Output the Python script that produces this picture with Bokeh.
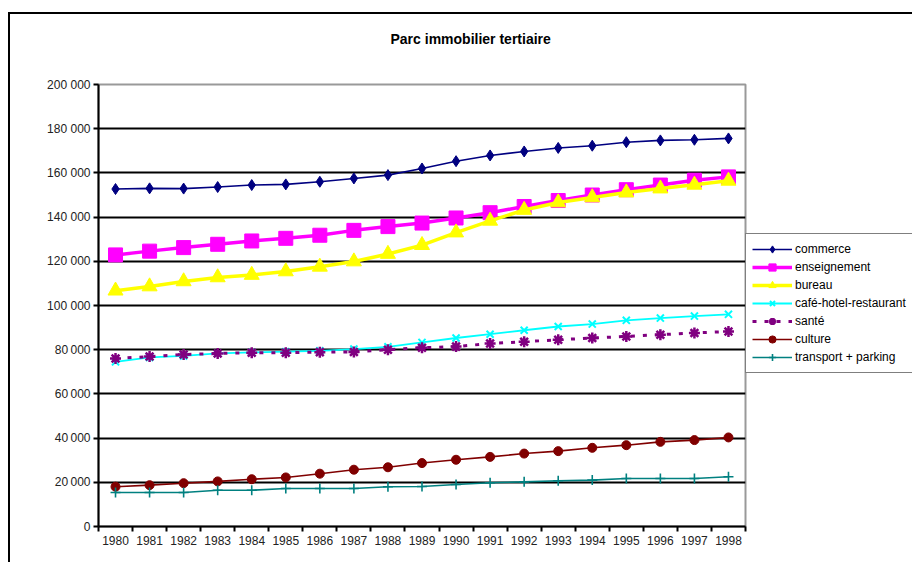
from bokeh.plotting import figure
from bokeh.models import FixedTicker, Legend, LegendItem, Range1d, Title
from bokeh.embed import file_html
from bokeh.resources import INLINE

years = [str(y) for y in range(1980, 1999)]

commerce = [152700, 153000, 152900, 153600, 154500, 154800, 156000, 157500, 159000, 162000,
            165300, 167900, 169700, 171300, 172300, 173900, 174700, 175000, 175600]
enseignement = [122900, 124600, 126200, 127700, 129200, 130400, 131800, 134000, 135700, 137300,
                139600, 142000, 144800, 147500, 150000, 152400, 154500, 156700, 158200]
bureau = [106700, 108600, 110900, 112700, 113800, 115400, 117500, 119900, 123300, 127300,
          133000, 138300, 143200, 146600, 148900, 151100, 152900, 154600, 156400]
cafe = [74500, 76500, 77200, 78300, 78800, 79100, 79500, 80300, 81300, 83300,
        85300, 87000, 88800, 90500, 91600, 93300, 94300, 95200, 96000]
sante = [76000, 76900, 77800, 78300, 78600, 78600, 78900, 79000, 80000, 80900,
         81400, 82800, 83600, 84500, 85300, 86000, 86800, 87600, 88200]
culture = [18000, 18700, 19600, 20400, 21400, 22200, 23900, 25700, 26800, 28700,
           30200, 31500, 33000, 34100, 35600, 36800, 38300, 39100, 40300]
transport = [15400, 15400, 15400, 16400, 16400, 17200, 17200, 17200, 18000, 18100,
             19000, 19800, 20200, 20700, 21000, 21700, 21700, 21700, 22500]

y_ticks = [0, 20000, 40000, 60000, 80000, 100000, 120000, 140000, 160000, 180000, 200000]
y_labels = ["0", "20\u2009000", "40\u2009000", "60\u2009000", "80\u2009000", "100 000",
            "120 000", "140 000", "160 000", "180 000", "200 000"]

series = [
    ("commerce", commerce, "#000080", 1.6, "solid", "diamond", 11, 1),
    ("enseignement", enseignement, "#FF00FF", 3.5, "solid", "square", 14, 1),
    ("bureau", bureau, "#FFFF00", 3.5, "solid", "triangle", 15, 1),
    ("café-hotel-restaurant", cafe, "#00FFFF", 1.8, "solid", "x", 10, 2),
    ("santé", sante, "#800080", 3, "4 8", "asterisk", 11, 2.5),
    ("culture", culture, "#800000", 1.6, "solid", "circle", 9, 1),
    ("transport + parking", transport, "#008080", 1.6, "solid", "cross", 10, 1.6),
]

FONT = "Liberation Sans"
xs = [i + 0.5 for i in range(len(years))]

p = figure(frame_width=647, frame_height=442, output_backend="svg", toolbar_location=None,
           x_range=Range1d(0, 19), y_range=Range1d(0, 200000),
           min_border_left=88, min_border_right=167, min_border_top=70, min_border_bottom=36,
           margin=(12, 0, 0, 8),
           styles={"border-left": "2px solid black", "border-top": "2px solid black"})
p.background_fill_color = "white"
p.border_fill_color = "white"
p.outline_line_color = "#999999"
p.outline_line_width = 2

p.title = Title(text="Parc immobilier tertiaire", align="left", offset=292,
                text_font_size="14px", text_font=FONT, text_font_style="bold", text_color="black")
p.add_layout(Title(text=" ", text_font_size="19px"), "above")

# y axis
ya = p.yaxis[0]
ya.ticker = FixedTicker(ticks=y_ticks)
ya.major_label_overrides = {t: l for t, l in zip(y_ticks, y_labels)}
ya.axis_line_width = 2
ya.axis_line_color = "black"
ya.major_tick_out = 5
ya.major_tick_in = 0
ya.major_tick_line_width = 2
ya.minor_tick_line_color = None
ya.major_label_standoff = 3
ya.major_label_text_font = FONT
ya.major_label_text_font_size = "12px"
ya.major_label_text_color = "#222222"

p.ygrid.ticker = FixedTicker(ticks=y_ticks[1:-1])
p.ygrid.grid_line_color = "black"
p.ygrid.grid_line_width = 2
p.xgrid.visible = False

# x axis: labels at category centres, tick marks at boundaries (minor ticks)
xa = p.xaxis[0]
xa.ticker = FixedTicker(ticks=xs, minor_ticks=list(range(len(years) + 1)))
xa.major_label_overrides = {x: y for x, y in zip(xs, years)}
xa.axis_line_width = 2
xa.axis_line_color = "black"
xa.major_tick_line_color = None
xa.major_tick_out = 5
xa.major_tick_in = 0
xa.minor_tick_out = 5
xa.minor_tick_in = 0
xa.minor_tick_line_width = 2
xa.minor_tick_line_color = "black"
xa.major_label_standoff = 4
xa.major_label_text_font = FONT
xa.major_label_text_font_size = "12px"
xa.major_label_text_color = "#222222"

items = []
for name, vals, color, lw, dash, marker, size, mlw in series:
    r1 = p.line(xs, vals, line_color=color, line_width=lw, line_dash=dash)
    r2 = p.scatter(xs, vals, marker=marker, size=size, fill_color=color, line_color=color,
                   line_width=mlw)
    items.append(LegendItem(label=name, renderers=[r1, r2]))

legend = Legend(items=items, location=(0, 153), orientation="vertical")
legend.border_line_color = "black"
legend.border_line_width = 1.5
legend.background_fill_color = "white"
legend.background_fill_alpha = 1
legend.label_text_font = FONT
legend.label_text_font_size = "12px"
legend.label_text_color = "black"
legend.glyph_width = 40
legend.glyph_height = 18
legend.label_height = 18
legend.label_standoff = 3
legend.spacing = 0
legend.padding = 6
legend.margin = 1
p.add_layout(legend, "right")

open("out.html", "w").write(file_html(p, INLINE))
